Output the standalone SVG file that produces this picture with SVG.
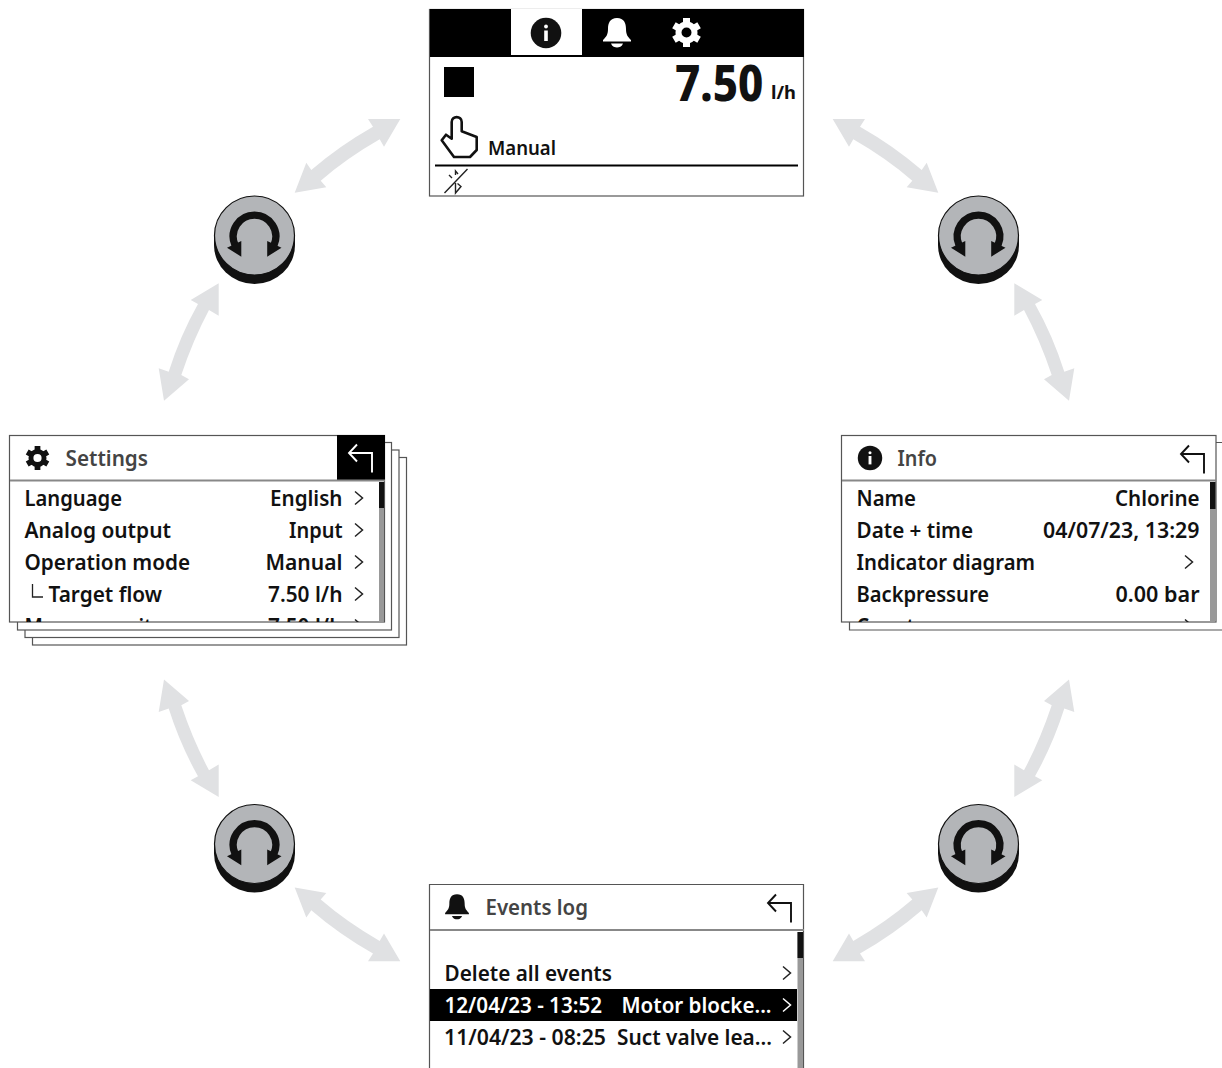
<svg xmlns="http://www.w3.org/2000/svg" xmlns:xlink="http://www.w3.org/1999/xlink" width="1222" height="1068" viewBox="0 0 1222 1068">
<style>
text{font-family:"Noto Sans","Open Sans",sans-serif;font-weight:600;fill:#111}
.r{font-size:21.5px}
.t{font-size:21.5px;fill:#444}
.w{fill:#fff}
.fr{fill:#fff;stroke:#555;stroke-width:1.2}
.hl{stroke:#888;stroke-width:2;fill:none}
.sb{fill:#999}
.sk{fill:#111}
.ch{fill:none;stroke:#222;stroke-width:1.5}
.bk{fill:none;stroke:#111;stroke-width:1.9}
.arrow{fill:#e0e1e3}
</style>
<defs>
<path id="arrow-diag" class="arrow" d="M400.3 119L384 146.700L379.700 139.300Q347 158 320.700 180.700L326.300 187.300L294.700 192.700L306.300 162.700L311.300 170Q339 146 373 126.700L368 119Z"/>
<path id="arrow-side" class="arrow" d="M218.700 283.300V315.700L209 310Q193 340 181.300 375L189 379.300L164 400.700L158.700 368.300L168.700 371.700Q180 336 198 304L190.700 300Z"/>
<g id="knob">
<path d="M-40.500 -4.500V5A40.500 39 0 0 0 40.500 5V-4.500Z" fill="#111"/>
<ellipse cy="-4.500" rx="40" ry="39.500" fill="#b3b5b8" stroke="#111" stroke-width="1.200"/>
<path d="M-19.500 5A21.300 21.300 0 1 1 19.500 5" fill="none" stroke="#111" stroke-width="7.300"/>
<path d="M-27.500 7.700L-13.200 16.700V1ZM27 7.700L12.700 16.700V1Z" fill="#111"/>
</g>
<g id="gear" fill="none" stroke="currentColor">
<circle r="8" stroke-width="6"/>
<path stroke-width="7" d="M0-14.500V-9M0 14.500V9M12.560-7.250L7.800-4.500M-12.560-7.250L-7.800-4.500M12.560 7.250L7.800 4.500M-12.560 7.250L-7.800 4.500"/>
</g>
<g id="bell" fill="currentColor">
<path d="M0-15C-7-15-9-10-9-4C-9 2-11 4-14 7V8.500H14V7C11 4 9 2 9-4C9-10 7-15 0-15Z"/>
<path d="M-6 10.500H6C5 13.500 2 14.500 0 14.500C-2 14.500-5 13.500-6 10.500Z"/>
</g>
<g id="info">
<circle r="15.300" fill="#111"/>
<circle cy="-6.500" r="1.900" fill="#fff"/>
<rect x="-1.800" y="-2.500" width="3.600" height="10.500" fill="#fff"/>
</g>
<path id="back" d="M8 -8.500L0 0L8 8.500M0 0H23V19.500"/>
<path id="chev" d="M0-6.500L7.500 0L0 6.500"/>
<clipPath id="clip-settings"><rect x="10" y="482" width="369" height="140"/></clipPath>
<clipPath id="clip-info"><rect x="842" y="482" width="368" height="140"/></clipPath>
</defs>

<g id="connectors">
<use xlink:href="#arrow-diag" href="#arrow-diag"/>
<use xlink:href="#arrow-side" href="#arrow-side"/>
<use xlink:href="#arrow-diag" href="#arrow-diag" transform="matrix(-1 0 0 1 1233 0)"/>
<use xlink:href="#arrow-side" href="#arrow-side" transform="matrix(-1 0 0 1 1233 0)"/>
<use xlink:href="#arrow-diag" href="#arrow-diag" transform="matrix(1 0 0 -1 0 1080.300)"/>
<use xlink:href="#arrow-side" href="#arrow-side" transform="matrix(1 0 0 -1 0 1080.300)"/>
<use xlink:href="#arrow-diag" href="#arrow-diag" transform="matrix(-1 0 0 -1 1233 1080.300)"/>
<use xlink:href="#arrow-side" href="#arrow-side" transform="matrix(-1 0 0 -1 1233 1080.300)"/>
</g>

<g id="knob-top-left"><use xlink:href="#knob" href="#knob" x="254.500" y="240"/></g>
<g id="knob-top-right"><use xlink:href="#knob" href="#knob" x="978.500" y="240"/></g>
<g id="knob-bottom-left"><use xlink:href="#knob" href="#knob" x="254.500" y="848.500"/></g>
<g id="knob-bottom-right"><use xlink:href="#knob" href="#knob" x="978.500" y="848.500"/></g>

<g id="screen-main">
<rect class="fr" x="429.500" y="9.500" width="374" height="186.500"/>
<rect x="430" y="9" width="374" height="48" fill="#000"/>
<rect x="511" y="9" width="71" height="46" fill="#fff"/>
<use xlink:href="#info" href="#info" x="546" y="33"/>
<use xlink:href="#bell" href="#bell" x="617" y="33" color="#fff"/>
<use xlink:href="#gear" href="#gear" x="686.500" y="32.500" color="#fff"/>
<rect x="444" y="67" width="30" height="30" fill="#000"/>
<text transform="translate(675 101) scale(.875 1)" font-size="50" style="font-weight:800">7.50</text>
<text x="771" y="99" font-size="18" style="font-weight:700" textLength="25" lengthAdjust="spacingAndGlyphs">l/h</text>
<path d="M451.700 122V138.700L446 134.700L441.700 140.300L454 157H470L476.700 150V137L461.700 131.300V122C461.700 115.500 451.700 115.500 451.700 122Z" fill="none" stroke="#111" stroke-width="2.600" stroke-linejoin="round"/>
<text x="488" y="155" font-size="19.500" textLength="68" lengthAdjust="spacingAndGlyphs">Manual</text>
<path d="M435 165.500H798" fill="none" stroke="#000" stroke-width="2"/>
<path d="M444.500 193L467.500 169M449 175L452 178M455.500 175V171L458 174M455.500 183V193L461 186.500L457.500 183.500" fill="none" stroke="#222" stroke-width="1.400"/>
</g>

<g id="screen-settings">
<rect class="fr" x="32.500" y="457.500" width="374" height="187.500"/>
<rect class="fr" x="25" y="450" width="374" height="187.500"/>
<rect class="fr" x="17.500" y="442.500" width="374" height="187.500"/>
<rect class="fr" x="9.500" y="435.500" width="375" height="186.500"/>
<rect x="337" y="435" width="48" height="45" fill="#000"/>
<path class="hl" d="M10 480.500H385"/>
<use xlink:href="#gear" href="#gear" transform="translate(37.500 458) scale(.82)" color="#111"/>
<text class="t" x="65.500" y="466" textLength="82.500" lengthAdjust="spacingAndGlyphs">Settings</text>
<use xlink:href="#back" href="#back" x="349" y="453" style="fill:none;stroke:#fff;stroke-width:1.900"/>
<rect class="sb" x="379" y="482" width="5" height="139.500"/>
<rect class="sk" x="379" y="482" width="5" height="26"/>
<g clip-path="url(#clip-settings)">
<text class="r" x="24.500" y="506" textLength="97.500" lengthAdjust="spacingAndGlyphs">Language</text>
<text class="r" x="270" y="506" textLength="72.500" lengthAdjust="spacingAndGlyphs">English</text>
<text class="r" x="24.500" y="538" textLength="146.500" lengthAdjust="spacingAndGlyphs">Analog output</text>
<text class="r" x="289" y="538" textLength="53.500" lengthAdjust="spacingAndGlyphs">Input</text>
<text class="r" x="24.500" y="570" textLength="165.500" lengthAdjust="spacingAndGlyphs">Operation mode</text>
<text class="r" x="265.500" y="570" textLength="77" lengthAdjust="spacingAndGlyphs">Manual</text>
<text class="r" x="48.500" y="602" textLength="113.500" lengthAdjust="spacingAndGlyphs">Target flow</text>
<text class="r" x="268" y="602" textLength="74.500" lengthAdjust="spacingAndGlyphs">7.50 l/h</text>
<text class="r" x="24.500" y="634" textLength="127.500" lengthAdjust="spacingAndGlyphs">Measure unit</text>
<text class="r" x="268" y="634" textLength="74.500" lengthAdjust="spacingAndGlyphs">7.50 l/h</text>
<use xlink:href="#chev" href="#chev" x="355" y="498" class="ch"/>
<use xlink:href="#chev" href="#chev" x="355" y="530" class="ch"/>
<use xlink:href="#chev" href="#chev" x="355" y="562" class="ch"/>
<use xlink:href="#chev" href="#chev" x="355" y="594" class="ch"/>
<use xlink:href="#chev" href="#chev" x="355" y="626" class="ch"/>
<path d="M32.500 584V597H43" fill="none" stroke="#222" stroke-width="1.300"/>
</g>
</g>

<g id="screen-info">
<path d="M1216 442.500H1222M849.500 622V630H1222" fill="none" stroke="#555" stroke-width="1.200"/>
<rect class="fr" x="841.500" y="435.500" width="374.500" height="186.500"/>
<path class="hl" d="M842 480.500H1216"/>
<use xlink:href="#info" href="#info" transform="translate(870 458) scale(.8)"/>
<text class="t" x="897.500" y="466" textLength="39.500" lengthAdjust="spacingAndGlyphs">Info</text>
<use xlink:href="#back" href="#back" x="1181" y="454" class="bk"/>
<rect class="sb" x="1210" y="482" width="5.500" height="139.500"/>
<rect class="sk" x="1210" y="482" width="5.500" height="27"/>
<g clip-path="url(#clip-info)">
<text class="r" x="856.500" y="506" textLength="59.500" lengthAdjust="spacingAndGlyphs">Name</text>
<text class="r" x="1115" y="506" textLength="84.500" lengthAdjust="spacingAndGlyphs">Chlorine</text>
<text class="r" x="856.500" y="538" textLength="116.500" lengthAdjust="spacingAndGlyphs">Date + time</text>
<text class="r" x="1043" y="538" textLength="156.500" lengthAdjust="spacingAndGlyphs">04/07/23, 13:29</text>
<text class="r" x="856.500" y="570" textLength="178.500" lengthAdjust="spacingAndGlyphs">Indicator diagram</text>
<text class="r" x="856.500" y="602" textLength="132.500" lengthAdjust="spacingAndGlyphs">Backpressure</text>
<text class="r" x="1115.500" y="602" textLength="84" lengthAdjust="spacingAndGlyphs">0.00 bar</text>
<text class="r" x="856.500" y="634" textLength="88" lengthAdjust="spacingAndGlyphs">Counters</text>
<use xlink:href="#chev" href="#chev" x="1185" y="562" class="ch"/>
<use xlink:href="#chev" href="#chev" x="1185" y="626" class="ch"/>
</g>
</g>

<g id="screen-events">
<path class="fr" d="M429.500 1068V884.500H803.500V1068"/>
<path class="hl" d="M430 930H804"/>
<use xlink:href="#bell" href="#bell" transform="translate(457 907) scale(.85)" color="#111"/>
<text class="t" x="485.500" y="915" textLength="102.500" lengthAdjust="spacingAndGlyphs">Events log</text>
<use xlink:href="#back" href="#back" x="768" y="903" class="bk"/>
<rect class="sb" x="797.500" y="932" width="5.500" height="136"/>
<rect class="sk" x="797.500" y="932" width="5.500" height="26"/>
<text class="r" x="444.500" y="981" textLength="167.500" lengthAdjust="spacingAndGlyphs">Delete all events</text>
<use xlink:href="#chev" href="#chev" x="783" y="973" class="ch"/>
<rect x="430" y="989" width="367" height="32" fill="#000"/>
<text class="r w" x="444.500" y="1013" textLength="157.500" lengthAdjust="spacingAndGlyphs">12/04/23 - 13:52</text>
<text class="r w" x="621.500" y="1013" textLength="150" lengthAdjust="spacingAndGlyphs">Motor blocke...</text>
<use xlink:href="#chev" href="#chev" x="783" y="1005" style="fill:none;stroke:#fff;stroke-width:1.500"/>
<text class="r" x="444" y="1045" textLength="162" lengthAdjust="spacingAndGlyphs">11/04/23 - 08:25</text>
<text class="r" x="617" y="1045" textLength="155" lengthAdjust="spacingAndGlyphs">Suct valve lea...</text>
<use xlink:href="#chev" href="#chev" x="783" y="1037" class="ch"/>
</g>
</svg>
